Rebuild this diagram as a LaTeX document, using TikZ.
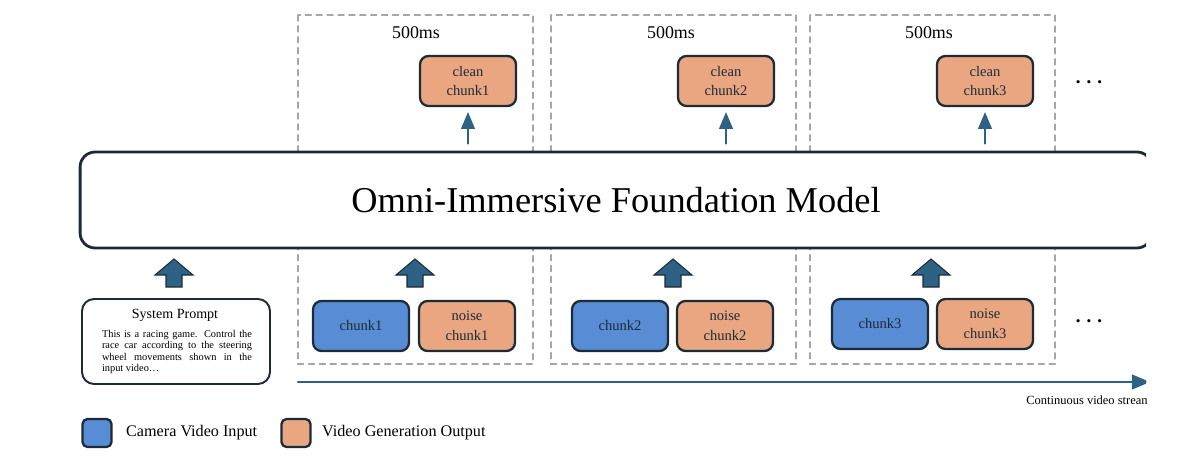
\documentclass[tikz,border=0pt]{standalone}
\usepackage{fontspec}
\setmainfont{Liberation Serif}
\usetikzlibrary{arrows}

\definecolor{camblue}{HTML}{588CD5}
\definecolor{genorange}{HTML}{E9A680}
\definecolor{edgedark}{HTML}{1C2B38}
\definecolor{flowblue}{HTML}{2D6284}

\tikzset{
  chunkbox/.style={draw=edgedark,line width=1.3pt,rounded corners=.17cm,
    minimum width=1.92cm,minimum height=1cm,align=center,text=edgedark,
    font=\fontsize{8.3}{11.3}\selectfont},
  inbox/.style={chunkbox,fill=camblue},
  outbox/.style={chunkbox,fill=genorange},
  window/.style={draw=gray!70,line width=.8pt,dash pattern=on 3.4pt off 2.8pt},
  thinflow/.style={flowblue,line width=1.2pt,-{triangle 45},
    shorten <=.14cm,shorten >=.1cm},
  flowup/.pic={\draw[edgedark,fill=flowblue,line width=.6pt]
    (-8,14) -- (-8,2) -- (-19,2) -- (0,-14) -- (19,2) -- (8,2) -- (8,14) -- cycle;}
}

\begin{document}
\begin{tikzpicture}[x=.02cm,y=-.02cm,line cap=round]
  \useasboundingbox (0,0) rectangle (1200,459);
  \clip (0,0) rectangle (1146,459);

  % 500 ms windows
  \draw[window] (298,15) rectangle (533,364);
  \draw[window] (551,15) rectangle (796,364);
  \draw[window] (810,15) rectangle (1055,364);
  \node[font=\fontsize{10.2}{12}\selectfont] (win1) at (416,33) {500ms};
  \node[font=\fontsize{10.2}{12}\selectfont] (win2) at (671,33) {500ms};
  \node[font=\fontsize{10.2}{12}\selectfont] (win3) at (929,33) {500ms};

  \node[outbox] (clean1) at (468,81) {clean\\chunk1};
  \node[outbox] (clean2) at (726,81) {clean\\chunk2};
  \node[outbox] (clean3) at (985,81) {clean\\chunk3};
  \node[font=\fontsize{12.5}{13}\selectfont\boldmath] (moreout) at (1089,83) {$\cdots$};

  \node[draw=edgedark,fill=white,line width=1.6pt,rounded corners=.3cm,
    minimum width=21.44cm,minimum height=1.92cm,
    font=\fontsize{20.7}{24}\selectfont] (model) at (616,200)
    {Omni-Immersive Foundation Model};

  \draw[thinflow] (clean1.south |- model.north) -- (clean1.south);
  \draw[thinflow] (clean2.south |- model.north) -- (clean2.south);
  \draw[thinflow] (clean3.south |- model.north) -- (clean3.south);

  % inputs
  \node[draw=edgedark,line width=1.1pt,rounded corners=.24cm,
    minimum width=3.76cm,minimum height=1.7cm] (prompt) at (176,341.5) {};
  \node[font=\fontsize{8}{9}\selectfont] (ptitle) at (175,315) {System Prompt};
  \node[text width=3cm,align=justify,inner sep=0pt,anchor=north,
    font=\fontsize{5.9}{6.45}\selectfont] (ptext) at (177,330)
    {This is a racing game. Control the\linebreak race car according to the
     steering\linebreak wheel movements shown in the\linebreak input video\dots};

  \node[inbox] (chunk1) at (361,326) {chunk1};
  \node[outbox] (noise1) at (467,326) {noise\\chunk1};
  \node[inbox] (chunk2) at (620,326) {chunk2};
  \node[outbox] (noise2) at (725,326) {noise\\chunk2};
  \node[inbox] (chunk3) at (880,324) {chunk3};
  \node[outbox] (noise3) at (985,324) {noise\\chunk3};
  \node[font=\fontsize{12.5}{13}\selectfont\boldmath] (morein) at (1089,322) {$\cdots$};

  \pic at (174,273) {flowup};
  \pic at (415,273) {flowup};
  \pic at (673,273) {flowup};
  \pic at (931,273) {flowup};

  % time line
  \coordinate (streamstart) at (298,382);
  \coordinate (streamend) at (1150,382);
  \draw[flowblue,line width=1.4pt,-{triangle 45}] (streamstart) -- (streamend);
  \node[anchor=west,inner sep=0pt,font=\fontsize{7.1}{8}\selectfont]
    (streamlbl) at (1026,400) {Continuous video stream};

  % legend
  \node[draw=edgedark,fill=camblue,line width=1.3pt,rounded corners=.1cm,
    minimum width=.58cm,minimum height=.56cm] (keyin) at (97,433) {};
  \node[anchor=west,font=\fontsize{9.2}{10}\selectfont] (keyinlbl) at (120,433)
    {Camera Video Input};
  \node[draw=edgedark,fill=genorange,line width=1.3pt,rounded corners=.1cm,
    minimum width=.58cm,minimum height=.56cm] (keyout) at (296,433) {};
  \node[anchor=west,font=\fontsize{9.2}{10}\selectfont] (keyoutlbl) at (316,433)
    {Video Generation Output};
\end{tikzpicture}
\end{document}
